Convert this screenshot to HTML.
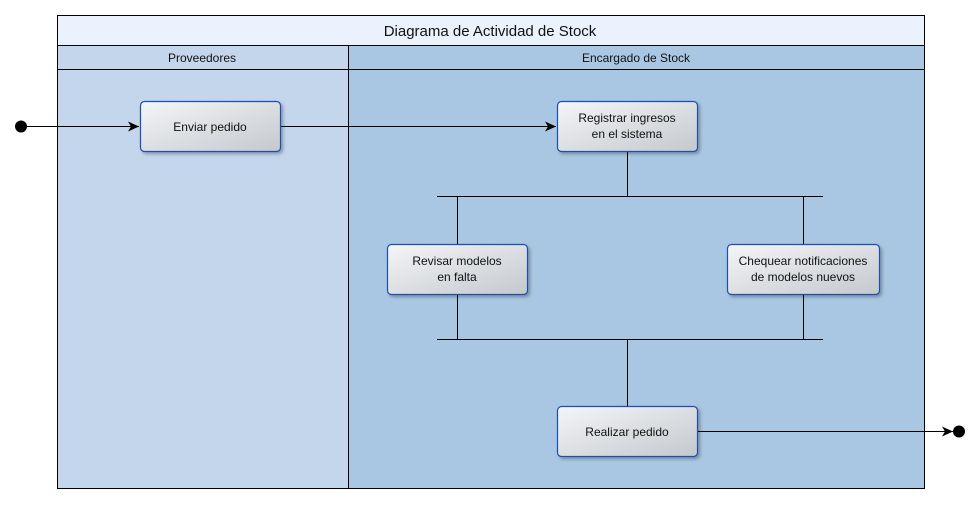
<!DOCTYPE html>
<html><head><meta charset="utf-8"><style>body{margin:0;background:#fff}</style></head><body>
<svg width="980" height="504" xmlns="http://www.w3.org/2000/svg" font-family="Liberation Sans, sans-serif">
<defs>
<linearGradient id="g" x1="0" y1="0" x2="1" y2="1"><stop offset="0" stop-color="#f4f5f7"/><stop offset="1" stop-color="#c4c8cd"/></linearGradient>
<filter id="s" x="-10%" y="-10%" width="130%" height="140%"><feDropShadow dx="2" dy="2" stdDeviation="1.5" flood-color="#000" flood-opacity="0.3"/></filter>
<marker id="a" markerWidth="12" markerHeight="10" refX="11" refY="5" orient="auto" markerUnits="userSpaceOnUse"><path d="M0,0 L11,5 L0,10 L3,5 z" fill="#000"/></marker>
</defs>
<rect x="57.5" y="15.5" width="867" height="473" fill="#eaf2fd" stroke="#000"/>
<rect x="57.5" y="45.5" width="291" height="443" fill="#c3d6ec" stroke="#000"/>
<rect x="348.5" y="45.5" width="576" height="443" fill="#a9c7e2" stroke="#000"/>
<line x1="57" y1="69.5" x2="925" y2="69.5" stroke="#000"/>
<text x="490" y="36" font-size="15" text-anchor="middle" fill="#111">Diagrama de Actividad de Stock</text>
<text x="202" y="62" font-size="12" text-anchor="middle" fill="#111">Proveedores</text>
<text x="636" y="62" font-size="12" text-anchor="middle" fill="#111">Encargado de Stock</text>
<g stroke="#000" stroke-width="1" fill="none">
<line x1="21" y1="126.5" x2="139" y2="126.5" marker-end="url(#a)"/>
<line x1="280" y1="126.5" x2="556" y2="126.5" marker-end="url(#a)"/>
<line x1="627.5" y1="151" x2="627.5" y2="196"/>
<line x1="437" y1="196.5" x2="823" y2="196.5"/>
<line x1="457.5" y1="196" x2="457.5" y2="244"/>
<line x1="803.5" y1="196" x2="803.5" y2="244"/>
<line x1="457.5" y1="294" x2="457.5" y2="339"/>
<line x1="803.5" y1="294" x2="803.5" y2="339"/>
<line x1="437" y1="339.5" x2="823" y2="339.5"/>
<line x1="627.5" y1="339" x2="627.5" y2="406"/>
<line x1="697" y1="431.5" x2="953" y2="431.5" marker-end="url(#a)"/>
</g>
<circle cx="21" cy="126.5" r="6" fill="#000"/>
<circle cx="959" cy="431.5" r="6" fill="#000"/>
<g stroke="#1f4fb0" stroke-width="1.2" fill="url(#g)" filter="url(#s)">
<rect x="140.5" y="101.5" width="140" height="50" rx="4"/>
<rect x="557.5" y="101.5" width="140" height="50" rx="4"/>
<rect x="387.5" y="244.5" width="140" height="50" rx="4"/>
<rect x="727.5" y="244.5" width="152" height="50" rx="4"/>
<rect x="557.5" y="406.5" width="140" height="50" rx="4"/>
</g>
<g font-size="12" text-anchor="middle" fill="#111">
<text x="210" y="131">Enviar pedido</text>
<text x="627" y="122">Registrar ingresos</text><text x="627" y="138">en el sistema</text>
<text x="457" y="265">Revisar modelos</text><text x="457" y="281">en falta</text>
<text x="803" y="265">Chequear notificaciones</text><text x="803" y="281">de modelos nuevos</text>
<text x="627" y="436">Realizar pedido</text>
</g>
</svg>
</body></html>
